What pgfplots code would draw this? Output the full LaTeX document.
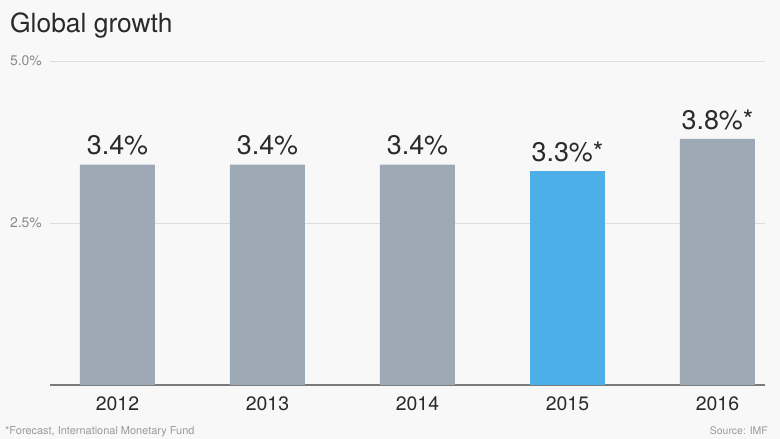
\documentclass[border=0pt]{standalone}
\usepackage{pgfplots}
\pgfplotsset{compat=1.18}
\usepackage{fontspec}
\setmainfont{TeX Gyre Heros}
\definecolor{bg}{HTML}{F8F8F8}
\definecolor{bargray}{HTML}{9DA9B5}
\definecolor{barblue}{HTML}{4EAEE8}
\definecolor{gridc}{HTML}{DDDDDD}
\definecolor{tickc}{HTML}{8A8A8A}
\definecolor{basec}{HTML}{7A7A7A}
\definecolor{titlec}{HTML}{2A2A2A}
\definecolor{footc}{HTML}{9A9A9A}
\begin{document}
\begin{tikzpicture}
\fill[bg] (0bp,0bp) rectangle (780bp,439bp);
\useasboundingbox (0bp,0bp) rectangle (780bp,439bp);
\node[anchor=base west, inner sep=0pt, font=\fontsize{26.5}{30}\selectfont, text=titlec] at (10bp,406bp) {Global growth};
\node[anchor=base west, inner sep=0pt, font=\fontsize{11}{12}\selectfont, text=footc] at (5bp,5bp) {*Forecast, International Monetary Fund};
\node[anchor=base east, inner sep=0pt, font=\fontsize{10.5}{12}\selectfont, text=footc] at (768bp,5bp) {Source: IMF};
\begin{axis}[
  at={(50bp,54bp)}, anchor=south west,
  scale only axis, width=715bp, height=324bp,
  xmin=-0.45, xmax=4.317, ymin=0, ymax=5,
  axis line style={draw=none},
  major tick length=0pt,
  ytick={2.5,5}, yticklabels={2.5\%,5.0\%},
  yticklabel style={anchor=east, inner sep=0pt, xshift=-8bp, font=\fontsize{14}{16}\selectfont, text=tickc},
  xtick={0,1,2,3,4}, xticklabels={2012,2013,2014,2015,2016},
  xticklabel style={anchor=north, inner sep=0pt, yshift=-12bp, font=\fontsize{19.5}{22}\selectfont, text=titlec},
  ymajorgrids, grid style={gridc, line width=1bp},
  extra y ticks={0}, extra y tick labels={},
  extra y tick style={grid style={basec, line width=1.6bp}},
  ybar, bar width=75bp,
  nodes near coords={\pgfplotspointmeta},
  point meta=explicit symbolic,
  every node near coord/.style={anchor=south, inner sep=0pt, yshift=9bp, font=\fontsize{27}{30}\selectfont, text=titlec},
  axis on top=false,
]
\addplot[fill=bargray, draw=none, bar shift=0pt] coordinates {
  (0,3.4) [3.4\%]
  (1,3.4) [3.4\%]
  (2,3.4) [3.4\%]
  (4,3.8) [3.8\%*]
};
\addplot[fill=barblue, draw=none, bar shift=0pt] coordinates {
  (3,3.3) [3.3\%*]
};
\end{axis}
\end{tikzpicture}
\end{document}
